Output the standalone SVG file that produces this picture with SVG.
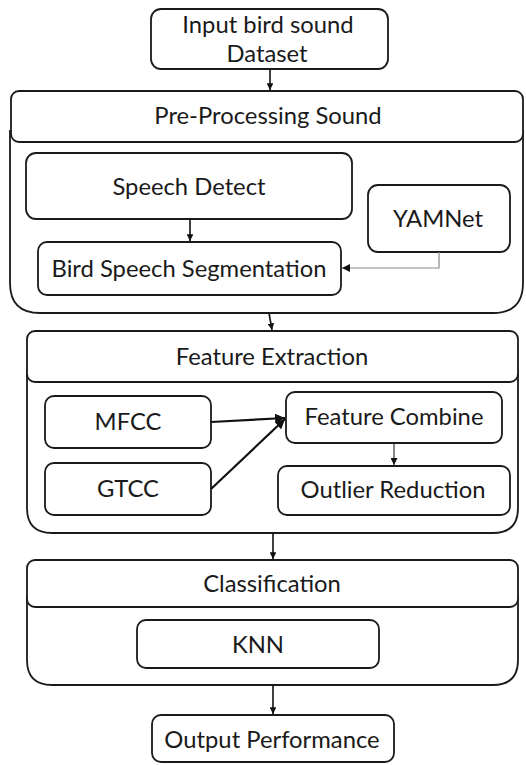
<svg xmlns="http://www.w3.org/2000/svg" width="526" height="765" viewBox="0 0 526 765">
  <defs>
    <marker id="arrow" viewBox="0 0 10 10" refX="10" refY="5" markerWidth="4.2" markerHeight="4.2" markerUnits="strokeWidth" orient="auto">
      <path d="M0,0 L10,5 L0,10 z" fill="#111"/>
    </marker>
    <marker id="arrowThin" viewBox="0 0 10 10" refX="10" refY="5" markerWidth="7" markerHeight="7" markerUnits="strokeWidth" orient="auto">
      <path d="M0,0 L10,5 L0,10 z" fill="#111"/>
    </marker>
    <marker id="arrowBold" viewBox="0 0 10 10" refX="10" refY="5" markerWidth="4.5" markerHeight="4.5" markerUnits="strokeWidth" orient="auto">
      <path d="M0,0 L10,5 L0,10 z" fill="#111"/>
    </marker>
  </defs>
  <style>
    .box { fill: #fff; stroke: #1a1a1a; stroke-width: 1.8; }
    .label { font-family: Lato, "Liberation Sans", sans-serif; font-size: 23.8px; fill: #1a1a1a; text-anchor: middle; }
    .flow { stroke: #111; stroke-width: 1.6; fill: none; }
    .thin { stroke: #111; stroke-width: 1; fill: none; }
    .grey { stroke: #888; stroke-width: 1.2; fill: none; }
    .bold { stroke: #111; stroke-width: 2.2; fill: none; }
  </style>

  <rect width="526" height="765" fill="#fff"/>

  <!-- Input -->
  <g id="input">
    <rect class="box" x="151" y="9" width="237" height="60" rx="10"/>
    <text class="label" x="268" y="33">Input bird sound</text>
    <text class="label" x="267" y="62">Dataset</text>
  </g>

  <!-- Pre-processing stage: body outline, then header drawn on top -->
  <g id="preprocessing">
    <path class="box" d="M10,130 V283 Q10,313 40,313 H493 Q523,313 523,283 V130"/>
    <rect class="box" x="11" y="91" width="512" height="51" rx="8"/>
    <text class="label" x="268" y="124">Pre-Processing Sound</text>
  </g>
  <g id="speech-detect">
    <rect class="box" x="26" y="153" width="326" height="66" rx="10"/>
    <text class="label" x="189" y="195">Speech Detect</text>
  </g>
  <g id="yamnet">
    <rect class="box" x="368" y="185" width="142" height="67" rx="10"/>
    <text class="label" x="438" y="227">YAMNet</text>
  </g>
  <g id="segmentation">
    <rect class="box" x="38" y="242" width="303" height="53" rx="9"/>
    <text class="label" x="189" y="277">Bird Speech Segmentation</text>
  </g>

  <!-- Feature extraction stage -->
  <g id="feature-extraction">
    <path class="box" d="M27,370 V508 Q27,533 52,533 H493 Q518,533 518,508 V370"/>
    <rect class="box" x="27" y="331" width="491" height="51" rx="8"/>
    <text class="label" x="272" y="365">Feature Extraction</text>
  </g>
  <g id="mfcc">
    <rect class="box" x="45" y="396" width="166" height="52" rx="9"/>
    <text class="label" x="128" y="430">MFCC</text>
  </g>
  <g id="gtcc">
    <rect class="box" x="45" y="463" width="166" height="52" rx="9"/>
    <text class="label" x="128" y="497">GTCC</text>
  </g>
  <g id="feature-combine">
    <rect class="box" x="286" y="392" width="216" height="51" rx="9"/>
    <text class="label" x="394" y="425">Feature Combine</text>
  </g>
  <g id="outlier-reduction">
    <rect class="box" x="278" y="466" width="232" height="49" rx="9"/>
    <text class="label" x="393" y="498">Outlier Reduction</text>
  </g>

  <!-- Classification stage -->
  <g id="classification">
    <path class="box" d="M27,595 V660 Q27,685 52,685 H493 Q518,685 518,660 V595"/>
    <rect class="box" x="27" y="560" width="491" height="47" rx="8"/>
    <text class="label" x="272" y="592">Classification</text>
  </g>
  <g id="knn">
    <rect class="box" x="137" y="620" width="242" height="48" rx="9"/>
    <text class="label" x="258" y="653">KNN</text>
  </g>

  <!-- Output -->
  <g id="output">
    <rect class="box" x="152" y="715" width="242" height="47" rx="9"/>
    <text class="label" x="272" y="748">Output Performance</text>
  </g>

  <!-- Connectors -->
  <g id="connectors">
    <line class="flow" x1="270" y1="69" x2="270" y2="90" marker-end="url(#arrow)"/>
    <line class="flow" x1="190" y1="219" x2="190" y2="241" marker-end="url(#arrow)"/>
    <polyline class="grey" points="439,252 439,268 342,268" marker-end="url(#arrowThin)"/>
    <line class="flow" x1="269" y1="313" x2="272" y2="330" marker-end="url(#arrow)"/>
    <line class="bold" x1="211" y1="422" x2="285" y2="418" marker-end="url(#arrowBold)"/>
    <line class="bold" x1="211" y1="489" x2="285" y2="419" marker-end="url(#arrowBold)"/>
    <line class="thin" x1="394" y1="443" x2="394" y2="465" marker-end="url(#arrowThin)"/>
    <line class="flow" x1="273" y1="533" x2="273" y2="559" marker-end="url(#arrow)"/>
    <line class="flow" x1="273" y1="685" x2="273" y2="714" marker-end="url(#arrow)"/>
  </g>
</svg>
